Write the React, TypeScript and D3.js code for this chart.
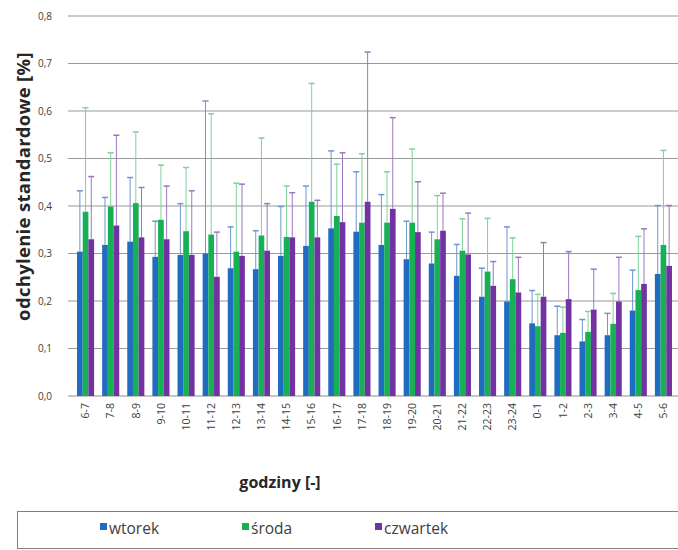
import { useEffect, useRef } from 'react'
import * as d3 from 'd3'

// hour ranges on the x axis
const hours = ['6-7', '7-8', '8-9', '9-10', '10-11', '11-12', '12-13', '13-14', '14-15', '15-16', '16-17', '17-18',
  '18-19', '19-20', '20-21', '21-22', '22-23', '23-24', '0-1', '1-2', '2-3', '3-4', '4-5', '5-6']

const seriesNames = ['wtorek', 'środa', 'czwartek']

// bar heights
const wtorek = [0.304, 0.318, 0.325, 0.293, 0.297, 0.300, 0.269, 0.267, 0.295, 0.316, 0.353, 0.346,
  0.318, 0.288, 0.279, 0.253, 0.209, 0.199, 0.153, 0.128, 0.115, 0.128, 0.180, 0.257]
const sroda = [0.388, 0.399, 0.406, 0.371, 0.347, 0.340, 0.304, 0.338, 0.335, 0.409, 0.379, 0.365,
  0.365, 0.365, 0.330, 0.306, 0.262, 0.246, 0.147, 0.133, 0.135, 0.152, 0.223, 0.318]
const czwartek = [0.330, 0.359, 0.334, 0.330, 0.297, 0.251, 0.295, 0.306, 0.334, 0.334, 0.366, 0.409,
  0.394, 0.345, 0.348, 0.298, 0.232, 0.218, 0.209, 0.204, 0.182, 0.199, 0.236, 0.274]

// top of each error bar
const wtorekErr = [0.432, 0.418, 0.460, 0.368, 0.405, 0.621, 0.356, 0.348, 0.399, 0.442, 0.516, 0.472,
  0.424, 0.368, 0.345, 0.319, 0.269, 0.356, 0.222, 0.189, 0.161, 0.174, 0.265, 0.401]
const srodaErr = [0.607, 0.512, 0.556, 0.486, 0.481, 0.594, 0.448, 0.543, 0.442, 0.658, 0.488, 0.510,
  0.472, 0.520, 0.422, 0.373, 0.374, 0.333, 0.214, 0.187, 0.178, 0.216, 0.336, 0.517]
const czwartekErr = [0.462, 0.549, 0.439, 0.442, 0.432, 0.345, 0.446, 0.405, 0.428, 0.412, 0.512, 0.724,
  0.586, 0.451, 0.427, 0.385, 0.283, 0.292, 0.323, 0.304, 0.267, 0.292, 0.352, 0.401]

const yTicks = [0, 0.1, 0.2, 0.3, 0.4, 0.5, 0.6, 0.7, 0.8]

const barColors = ['#1f6cc0', '#18b055', '#7232a2']
const errColors = ['#6f95cf', '#7fd29b', '#9c77bf']

const App = () => {
  const chart = useRef<HTMLDivElement>(null)

  useEffect(() => {
    const node = chart.current
    if (!node) return
    d3.select(node).selectAll('*').remove()

    const width = 678
    const height = 550
    const left = 72, right = 677, top = 16, bottom = 396
    const font = "'Open Sans', sans-serif"

    const svg = d3.select(node)
      .append('svg')
      .attr('width', width)
      .attr('height', height)
      .style('position', 'absolute')
      .style('left', 0)
      .style('top', 0)
      .style('font-family', font)

    svg.append('rect').attr('width', width).attr('height', height).attr('fill', '#fff')

    const x = d3.scaleBand()
      .domain(hours)
      .range([left, right])
      .paddingInner(0.32)
      .paddingOuter(0.2)

    const xSub = d3.scaleBand()
      .domain(seriesNames)
      .range([0, x.bandwidth()])

    const y = d3.scaleLinear()
      .domain([0, 0.8])
      .range([bottom, top])

    // gridlines + y ticks
    const grid = svg.append('g')
    grid.selectAll('line.grid')
      .data(yTicks)
      .enter().append('line')
      .attr('x1', left - 4)
      .attr('x2', right + 2)
      .attr('y1', d => y(d))
      .attr('y2', d => y(d))
      .attr('stroke', d => d === 0 ? '#8c8c8c' : '#9a9a9a')
      .attr('stroke-width', 1.2)

    grid.selectAll('text')
      .data(yTicks)
      .enter().append('text')
      .attr('x', 52)
      .attr('y', d => y(d))
      .attr('dy', '0.35em')
      .attr('text-anchor', 'end')
      .attr('font-size', 10)
      .attr('fill', '#404040')
      .text(d => d3.format('.1f')(d).replace('.', ','))

    // y axis title
    svg.append('text')
      .attr('transform', `translate(24,${(40 + 333) / 2}) rotate(-90)`)
      .attr('text-anchor', 'middle')
      .attr('dy', '0.35em')
      .attr('font-size', 18.5)
      .attr('font-weight', 'bold')
      .attr('letter-spacing', 0.3)
      .attr('fill', '#262626')
      .text('odchylenie standardowe  [%]')

    const series = [wtorek, sroda, czwartek]
    const errs = [wtorekErr, srodaErr, czwartekErr]

    // bars
    series.forEach((vals, s) => {
      svg.append('g')
        .selectAll('rect')
        .data(vals)
        .enter().append('rect')
        .attr('x', (d, i) => x(hours[i])! + xSub(seriesNames[s])!)
        .attr('width', xSub.bandwidth())
        .attr('y', d => y(d))
        .attr('height', d => bottom - y(d))
        .attr('fill', barColors[s])
    })

    // error bars (upper only)
    series.forEach((vals, s) => {
      const g = svg.append('g')
      const cx = (i: number) => x(hours[i])! + xSub(seriesNames[s])! + xSub.bandwidth() / 2
      g.selectAll('line.stem')
        .data(errs[s])
        .enter().append('line')
        .attr('x1', (d, i) => cx(i))
        .attr('x2', (d, i) => cx(i))
        .attr('y1', (d, i) => y(vals[i]))
        .attr('y2', d => y(d))
        .attr('stroke', errColors[s])
        .attr('stroke-width', 1)
      g.selectAll('line.cap')
        .data(errs[s])
        .enter().append('line')
        .attr('x1', (d, i) => cx(i) - 3)
        .attr('x2', (d, i) => cx(i) + 3)
        .attr('y1', d => y(d))
        .attr('y2', d => y(d))
        .attr('stroke', errColors[s])
        .attr('stroke-width', 1.5)
    })

    // x tick labels
    svg.append('g')
      .selectAll('text')
      .data(hours)
      .enter().append('text')
      .attr('transform', d => `translate(${x(d)! + x.bandwidth() / 2},403) rotate(-90)`)
      .attr('text-anchor', 'end')
      .attr('dy', '0.35em')
      .attr('font-size', 10.5)
      .attr('fill', '#404040')
      .text(d => d)

    // x axis title
    svg.append('text')
      .attr('x', 280)
      .attr('y', 482)
      .attr('dy', '0.35em')
      .attr('text-anchor', 'middle')
      .attr('font-size', 16)
      .attr('font-weight', 'bold')
      .attr('fill', '#262626')
      .text('godziny [-]')

    // legend
    const legend = svg.append('g')
    legend.append('rect')
      .attr('x', 17.5)
      .attr('y', 511.5)
      .attr('width', 680)
      .attr('height', 37)
      .attr('fill', 'none')
      .attr('stroke', '#7f7f7f')
      .attr('stroke-width', 1)
    const legendX = [100, 242, 375]
    seriesNames.forEach((name, s) => {
      legend.append('rect')
        .attr('x', legendX[s])
        .attr('y', 523)
        .attr('width', 7)
        .attr('height', 7)
        .attr('fill', barColors[s])
      legend.append('text')
        .attr('x', legendX[s] + 9)
        .attr('y', 529)
        .attr('dy', '0.35em')
        .attr('font-size', 15.5)
        .attr('fill', '#404040')
        .text(name)
    })
  }, [])

  return (
    <>
      <div ref={chart} className='chart'></div>
    </>
  )
}

export default App
